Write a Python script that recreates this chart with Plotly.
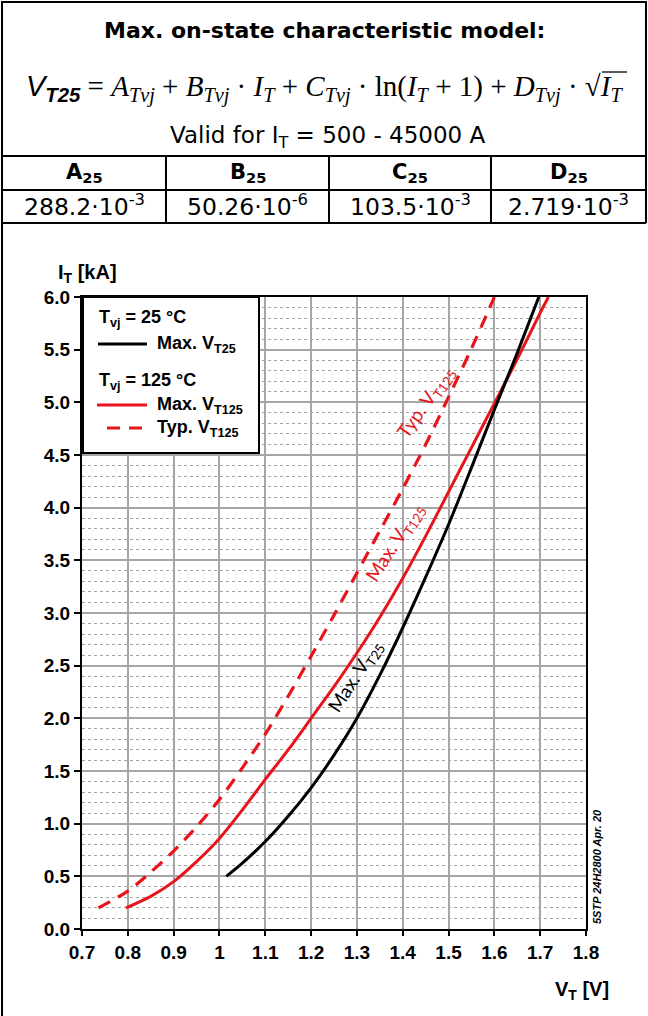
import plotly.graph_objects as go

# ---------------- data ----------------
v_max25 = [1.015, 1.05, 1.10, 1.15, 1.20, 1.25, 1.30, 1.35, 1.40, 1.45, 1.50, 1.55, 1.60, 1.65, 1.697]
i_max25 = [0.50, 0.625, 0.83, 1.07, 1.34, 1.65, 2.00, 2.41, 2.86, 3.34, 3.84, 4.38, 4.93, 5.47, 6.00]

v_max125 = [0.796, 0.85, 0.90, 0.95, 1.00, 1.05, 1.10, 1.15, 1.20, 1.25, 1.30, 1.35, 1.40, 1.45, 1.50, 1.55, 1.60, 1.65, 1.70, 1.718]
i_max125 = [0.20, 0.31, 0.45, 0.64, 0.86, 1.13, 1.42, 1.70, 2.00, 2.30, 2.62, 2.96, 3.33, 3.73, 4.15, 4.57, 4.99, 5.41, 5.85, 6.00]

v_typ125 = [0.736, 0.80, 0.85, 0.90, 0.95, 1.00, 1.05, 1.10, 1.15, 1.20, 1.25, 1.30, 1.35, 1.40, 1.45, 1.50, 1.55, 1.60]
i_typ125 = [0.20, 0.36, 0.54, 0.74, 0.97, 1.23, 1.53, 1.85, 2.21, 2.59, 2.98, 3.38, 3.78, 4.18, 4.60, 5.05, 5.51, 6.00]

x_tickvals = [0.7, 0.8, 0.9, 1.0, 1.1, 1.2, 1.3, 1.4, 1.5, 1.6, 1.7, 1.8]
x_ticktext = ["0.7", "0.8", "0.9", "1", "1.1", "1.2", "1.3", "1.4", "1.5", "1.6", "1.7", "1.8"]
y_tickvals = [0.0, 0.5, 1.0, 1.5, 2.0, 2.5, 3.0, 3.5, 4.0, 4.5, 5.0, 5.5, 6.0]
y_ticktext = ["0.0", "0.5", "1.0", "1.5", "2.0", "2.5", "3.0", "3.5", "4.0", "4.5", "5.0", "5.5", "6.0"]

col_headers = ["A<sub>25</sub>", "B<sub>25</sub>", "C<sub>25</sub>", "D<sub>25</sub>"]
col_values = ["288.2·10<sup>-3</sup>", "50.26·10<sup>-6</sup>", "103.5·10<sup>-3</sup>", "2.719·10<sup>-3</sup>"]

# ---------------- geometry helpers ----------------
W, H = 648, 1016
L, R, T, B = 82, 586, 297, 929
PW, PH = R - L, B - T


def px(x):
    return (x - L) / PW


def py(y):
    return (B - y) / PH


RED = "#e8141b"
SANS = "Liberation Sans"
WIDE = "DejaVu Sans"
SERIF = "Liberation Serif"
DASH = "13px,9px"

fig = go.Figure()

fig.add_trace(go.Scatter(x=v_typ125, y=i_typ125, mode="lines",
                         line=dict(color=RED, width=3.2, dash=DASH, shape="spline", smoothing=0.8),
                         showlegend=False))
fig.add_trace(go.Scatter(x=v_max125, y=i_max125, mode="lines",
                         line=dict(color=RED, width=3, shape="spline", smoothing=0.8), showlegend=False))
fig.add_trace(go.Scatter(x=v_max25, y=i_max25, mode="lines",
                         line=dict(color="black", width=3, shape="spline", smoothing=0.8), showlegend=False))

shapes = []
ann = []


# ---------------- frame / table ----------------
def hline(x0, x1, y, w=2):
    shapes.append(dict(type="line", xref="paper", yref="paper", x0=px(x0), x1=px(x1),
                       y0=py(y), y1=py(y), line=dict(color="black", width=w)))


def vline(x, y0, y1, w=2):
    shapes.append(dict(type="line", xref="paper", yref="paper", x0=px(x), x1=px(x),
                       y0=py(y0), y1=py(y1), line=dict(color="black", width=w)))


hline(2, 646, 2)
vline(2, 1, 1016)
vline(646, 1, 223)
hline(2, 646, 156)
hline(2, 646, 190)
hline(2, 646, 223)
for xc in (166, 329, 491):
    vline(xc, 156, 223)


def text(x, y, s, size, family=SANS, color="black", xanchor="center", angle=0, yanchor="middle"):
    ann.append(dict(xref="paper", yref="paper", x=px(x), y=py(y), text=s, showarrow=False,
                    xanchor=xanchor, yanchor=yanchor, textangle=angle,
                    font=dict(family=family, size=size, color=color)))


text(324, 30, "<b>Max. on-state characteristic model:</b>", 22, family=WIDE)
formula = ('<span style="font-family:Liberation Sans"><i>V</i><sub><b><i>T25</i></b></sub></span>'
           ' = <i>A</i><sub><i>Tvj</i></sub> + <i>B</i><sub><i>Tvj</i></sub> · <i>I</i><sub><i>T</i></sub>'
           ' + <i>C</i><sub><i>Tvj</i></sub> · ln(<i>I</i><sub><i>T</i></sub> + 1)'
           ' + <i>D</i><sub><i>Tvj</i></sub> · √<i>I</i><sub><i>T</i></sub>')
text(324, 88, formula, 29, family=SERIF)
text(327, 137, "Valid for I<sub>T</sub> = 500 - 45000 A", 23, family=WIDE)
centers = [84, 247.5, 410, 568.5]
for c, h, v in zip(centers, col_headers, col_values):
    text(c, 173, "<b>" + h + "</b>", 21, family=WIDE)
    text(c, 206, v, 23.5, family=WIDE)

# radical bar over I_T
shapes.append(dict(type="line", xref="paper", yref="paper", x0=px(602), x1=px(627), y0=py(72), y1=py(72),
                   line=dict(color="black", width=1.3)))

# ---------------- axis titles ----------------
text(87, 273, "<b>I<sub>T</sub> [kA]</b>", 20)
text(582, 990, "<b>V<sub>T</sub> [V]</b>", 20)
text(597, 867, "<b><i>5STP 24H2800 Apr. 20</i></b>", 11, angle=-90)

# ---------------- legend ----------------
shapes.append(dict(type="rect", xref="paper", yref="paper", x0=px(83), x1=px(259), y0=py(297), y1=py(453),
                   fillcolor="white", line=dict(color="black", width=2), layer="above"))
shapes.append(dict(type="line", xref="paper", yref="paper", x0=px(98), x1=px(147), y0=py(344), y1=py(344),
                   line=dict(color="black", width=3), layer="above"))
shapes.append(dict(type="line", xref="paper", yref="paper", x0=px(97), x1=px(147), y0=py(405), y1=py(405),
                   line=dict(color=RED, width=3), layer="above"))
shapes.append(dict(type="line", xref="paper", yref="paper", x0=px(107), x1=px(147), y0=py(428), y1=py(428),
                   line=dict(color=RED, width=3, dash=DASH), layer="above"))
text(97, 318, "<b>T<sub>vj</sub> = 25 °C</b>", 18, xanchor="left")
text(155, 344, "<b>Max. V<sub>T25</sub></b>", 18, xanchor="left")
text(97, 381, "<b>T<sub>vj</sub> = 125 °C</b>", 18, xanchor="left")
text(155, 405, "<b>Max. V<sub>T125</sub></b>", 18, xanchor="left")
text(155, 428, "<b>Typ. V<sub>T125</sub></b>", 18, xanchor="left")

# ---------------- curve labels ----------------
ann.append(dict(x=1.298, y=2.40, text="Max. V<sub>T25</sub>", showarrow=False, textangle=-57,
                font=dict(family="Lato", size=19, color="black")))
ann.append(dict(x=1.385, y=3.67, text="Max. V<sub>T125</sub>", showarrow=False, textangle=-57,
                font=dict(family="Lato", size=19, color=RED)))
ann.append(dict(x=1.452, y=5.0, text="Typ. V<sub>T125</sub>", showarrow=False, textangle=-55,
                font=dict(family="Lato", size=19, color=RED)))

GRID = "#a6a6a6"
fig.update_layout(
    width=W, height=H, margin=dict(l=L, r=W - R, t=T, b=H - B),
    paper_bgcolor="white", plot_bgcolor="white",
    shapes=shapes, annotations=ann,
    xaxis=dict(range=[0.7, 1.8], tickvals=x_tickvals, ticktext=x_ticktext,
               showgrid=True, gridcolor=GRID, gridwidth=1.5,
               showline=True, linecolor="black", linewidth=2, mirror=True,
               ticks="outside", ticklen=5, tickwidth=2, tickcolor="black",
               tickfont=dict(family=SANS, size=19, color="black", weight="bold"),
               zeroline=False, fixedrange=True),
    yaxis=dict(range=[0, 6], tickvals=y_tickvals, ticktext=y_ticktext,
               showgrid=True, gridcolor=GRID, gridwidth=1.5,
               minor=dict(dtick=0.1, showgrid=True, gridcolor=GRID, gridwidth=1, griddash="dot"),
               showline=True, linecolor="black", linewidth=2, mirror=True,
               ticks="outside", ticklen=6, tickwidth=2, tickcolor="black",
               tickfont=dict(family=SANS, size=19, color="black", weight="bold"),
               zeroline=False, fixedrange=True),
)

fig.write_html("out.html", config={"displayModeBar": False},
               post_script="document.body.style.margin='0px';")
